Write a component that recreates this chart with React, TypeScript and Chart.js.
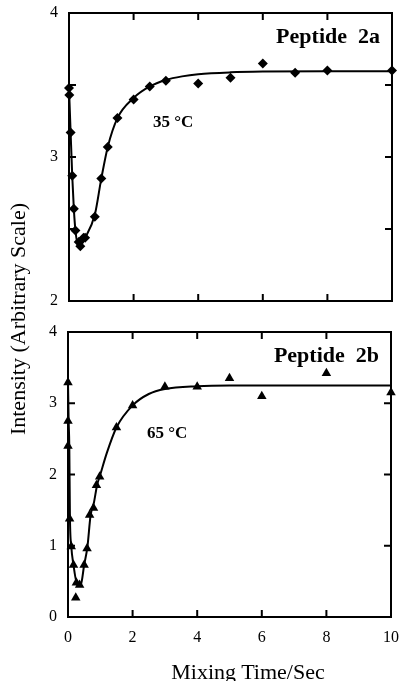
import React, { useEffect, useRef } from "react";
import { Chart, registerables } from "chart.js";

Chart.register(...registerables);

const FONT = "'Liberation Serif', 'Times New Roman', serif";

// Peptide 2a (35 °C) – measured points
const topPtsX = [0, 0.01, 0.05, 0.1, 0.15, 0.2, 0.3, 0.35, 0.45, 0.5, 0.8, 1.0, 1.2, 1.5, 2.0, 2.5, 3.0, 4.0, 5.0, 6.0, 7.0, 8.0, 10.0];
const topPtsY = [3.48, 3.43, 3.17, 2.87, 2.64, 2.49, 2.41, 2.38, 2.44, 2.44, 2.585, 2.85, 3.07, 3.27, 3.40, 3.49, 3.53, 3.51, 3.55, 3.65, 3.585, 3.60, 3.60];
// Peptide 2a – fitted curve
const topFitX = [0, 0.05, 0.1, 0.15, 0.2, 0.3, 0.5, 0.8, 1.0, 1.2, 1.5, 2.0, 2.5, 3.0, 3.5, 4.0, 5.0, 6.0, 8.0, 10.0];
const topFitY = [3.48, 3.17, 2.87, 2.64, 2.49, 2.37, 2.44, 2.6, 2.85, 3.07, 3.27, 3.41, 3.49, 3.535, 3.56, 3.575, 3.588, 3.593, 3.595, 3.595];

// Peptide 2b (65 °C) – measured points
const botPtsX = [0, 0, 0, 0.05, 0.1, 0.17, 0.24, 0.26, 0.36, 0.5, 0.59, 0.67, 0.79, 0.88, 0.98, 1.5, 2.0, 3.0, 4.0, 5.0, 6.0, 8.0, 10.0];
const botPtsY = [3.29, 2.75, 2.40, 1.38, 0.99, 0.73, 0.27, 0.48, 0.45, 0.73, 0.96, 1.43, 1.53, 1.85, 1.97, 2.66, 2.97, 3.23, 3.23, 3.35, 3.10, 3.42, 3.15];
// Peptide 2b – fitted curve
const botFitX = [0, 0.02, 0.04, 0.06, 0.1, 0.17, 0.3, 0.4, 0.5, 0.6, 0.7, 0.8, 0.9, 1.0, 1.2, 1.5, 2.0, 2.5, 3.0, 4.0, 5.0, 10.0];
const botFitY = [3.3, 2.75, 2.4, 1.4, 1.0, 0.73, 0.44, 0.46, 0.73, 0.98, 1.43, 1.6, 1.85, 2.0, 2.3, 2.66, 2.97, 3.13, 3.2, 3.24, 3.25, 3.25];

const xTickMarks = [2, 4, 6, 8];
const topYTickMarks = [2.5, 3, 3.5];
const botYTickMarks = [1, 2, 3];

const topLabel = "Peptide  2a";
const topTemp = "35 °C";
const botLabel = "Peptide  2b";
const botTemp = "65 °C";

function framePlugin(yMarks: number[], label: string, temp: string, tempX: number, tempY: number) {
  return {
    id: "frameTicks",
    beforeDatasetsDraw(chart: any) {
      const { ctx, chartArea: a, scales } = chart;
      const tl = 7;
      ctx.save();
      ctx.strokeStyle = "#000";
      ctx.lineWidth = 2;
      ctx.strokeRect(a.left, a.top, a.right - a.left, a.bottom - a.top);
      ctx.beginPath();
      for (const v of xTickMarks) {
        const px = scales.x.getPixelForValue(v);
        ctx.moveTo(px, a.bottom);
        ctx.lineTo(px, a.bottom - tl);
        ctx.moveTo(px, a.top);
        ctx.lineTo(px, a.top + tl);
      }
      for (const v of yMarks) {
        const py = scales.y.getPixelForValue(v);
        ctx.moveTo(a.left, py);
        ctx.lineTo(a.left + tl, py);
        ctx.moveTo(a.right, py);
        ctx.lineTo(a.right - tl, py);
      }
      ctx.stroke();
      ctx.restore();
    },
    afterDatasetsDraw(chart: any) {
      const { ctx, chartArea: a } = chart;
      ctx.save();
      ctx.fillStyle = "#000";
      ctx.font = `bold 22px ${FONT}`;
      ctx.textAlign = "right";
      ctx.textBaseline = "alphabetic";
      ctx.fillText(label, a.right - 12, a.top + 30);
      ctx.font = `bold 17px ${FONT}`;
      ctx.textAlign = "left";
      ctx.fillText(temp, tempX, tempY);
      ctx.restore();
    },
  };
}

function makeConfig(p: {
  ptsX: number[]; ptsY: number[]; fitX: number[]; fitY: number[];
  yMin: number; yMax: number; yMarks: number[]; showX: boolean;
  yWidth: number; xHeight: number; padTop: number; padRight: number;
  style: string; radius: number; label: string; temp: string; tempX: number; tempY: number;
}) {
  const pts = p.ptsX.map((x, i) => ({ x, y: p.ptsY[i] }));
  const fit = p.fitX.map((x, i) => ({ x, y: p.fitY[i] }));
  return {
    type: "scatter" as const,
    data: {
      datasets: [
        {
          data: fit,
          showLine: true,
          borderColor: "#000",
          borderWidth: 2,
          pointRadius: 0,
          cubicInterpolationMode: "monotone",
          clip: false,
        },
        {
          data: pts,
          showLine: false,
          pointStyle: p.style,
          pointRadius: p.radius,
          backgroundColor: "#000",
          borderColor: "#000",
          borderWidth: 0,
          clip: false,
        },
      ],
    },
    options: {
      animation: false,
      responsive: false,
      devicePixelRatio: 1,
      layout: { padding: { top: p.padTop, right: p.padRight, left: 0, bottom: 0 } },
      plugins: { legend: { display: false }, tooltip: { enabled: false } },
      scales: {
        x: {
          type: "linear",
          min: 0,
          max: 10,
          grid: { display: false, drawTicks: false },
          border: { display: false },
          ticks: {
            display: p.showX,
            stepSize: 2,
            padding: 11,
            color: "#000",
            font: { family: FONT, size: 16 },
          },
          afterFit: (s: any) => { s.height = p.xHeight; s.paddingLeft = 0; s.paddingRight = 0; },
        },
        y: {
          min: p.yMin,
          max: p.yMax,
          grid: { display: false, drawTicks: false },
          border: { display: false },
          ticks: {
            stepSize: 1,
            padding: 11,
            color: "#000",
            font: { family: FONT, size: 16 },
          },
          afterFit: (s: any) => { s.width = p.yWidth; s.paddingTop = 0; s.paddingBottom = 0; },
        },
      },
    },
    plugins: [framePlugin(p.yMarks, p.label, p.temp, p.tempX, p.tempY)],
  };
}

export default function App() {
  const topRef = useRef<HTMLCanvasElement>(null);
  const botRef = useRef<HTMLCanvasElement>(null);

  useEffect(() => {
    const c1 = new Chart(topRef.current as any, makeConfig({
      ptsX: topPtsX, ptsY: topPtsY, fitX: topFitX, fitY: topFitY,
      yMin: 2, yMax: 4, yMarks: topYTickMarks, showX: false,
      yWidth: 69, xHeight: 19, padTop: 13, padRight: 9,
      style: "rectRot", radius: 5, label: topLabel, temp: topTemp, tempX: 153, tempY: 127,
    }) as any);
    const c2 = new Chart(botRef.current as any, makeConfig({
      ptsX: botPtsX, ptsY: botPtsY, fitX: botFitX, fitY: botFitY,
      yMin: 0, yMax: 4, yMarks: botYTickMarks, showX: true,
      yWidth: 68, xHeight: 64, padTop: 12, padRight: 10,
      style: "triangle", radius: 5.5, label: botLabel, temp: botTemp, tempX: 147, tempY: 118,
    }) as any);
    return () => { c1.destroy(); c2.destroy(); };
  }, []);

  return (
    <div style={{ position: "absolute", left: 0, top: 0, width: 401, height: 681, background: "#fff", overflow: "hidden" }}>
      <canvas ref={topRef} width={401} height={320} style={{ position: "absolute", left: 0, top: 0, width: 401, height: 320 }} />
      <canvas ref={botRef} width={401} height={361} style={{ position: "absolute", left: 0, top: 320, width: 401, height: 361 }} />
      <div style={{
        position: "absolute", left: 18 - 150, top: 319 - 12, width: 300, height: 24, lineHeight: "24px",
        textAlign: "center", transform: "rotate(-90deg)", fontFamily: FONT, fontSize: 22, color: "#000", whiteSpace: "nowrap",
      }}>Intensity (Arbitrary Scale)</div>
      <div style={{
        position: "absolute", left: 148, top: 660, width: 200, height: 24, lineHeight: "24px",
        textAlign: "center", fontFamily: FONT, fontSize: 22, color: "#000", whiteSpace: "nowrap",
      }}>Mixing Time/Sec</div>
    </div>
  );
}
